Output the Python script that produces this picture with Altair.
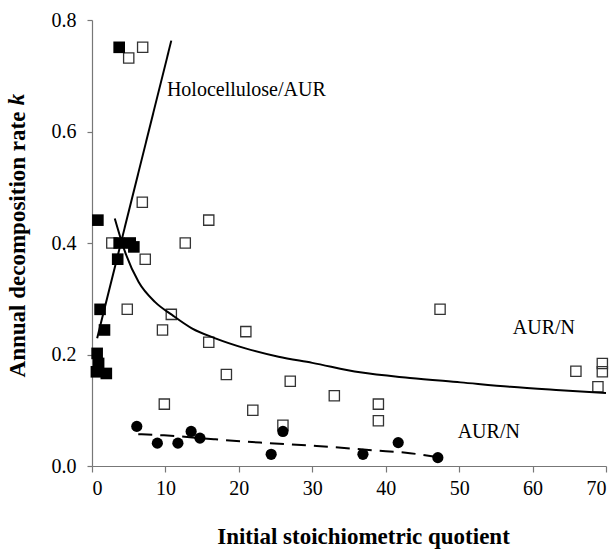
import altair as alt
import pandas as pd

# Open squares
open_x = [5.0, 6.9, 6.85, 15.9, 12.7, 2.7, 7.25, 4.8, 10.8, 9.6, 15.9, 20.95, 18.3, 27.0,
          9.85, 21.9, 26.0, 33.0, 39.0, 39.0, 47.4, 65.9, 69.5, 69.5, 68.9]
open_y = [0.732, 0.751, 0.473, 0.441, 0.400, 0.400, 0.371, 0.281, 0.272, 0.244, 0.222, 0.241,
          0.164, 0.152, 0.111, 0.100, 0.073, 0.126, 0.111, 0.081, 0.281, 0.170, 0.184, 0.169, 0.142]

# Filled squares (Holocellulose/AUR)
fsq_x = [3.7, 0.8, 3.7, 5.2, 5.7, 3.5, 1.1, 1.7, 0.7, 0.9, 0.6, 1.95]
fsq_y = [0.751, 0.441, 0.400, 0.400, 0.393, 0.371, 0.281, 0.244, 0.202, 0.184, 0.169, 0.166]

# Filled circles
circ_x = [6.1, 8.9, 11.7, 13.5, 14.7, 24.4, 26.0, 36.9, 41.7, 47.1]
circ_y = [0.071, 0.041, 0.041, 0.062, 0.050, 0.021, 0.062, 0.021, 0.042, 0.015]

# Trend lines
holo_x = [0.7, 10.8]
holo_y = [0.229, 0.763]

aurn_x = [3.1, 4.5, 6.35, 8.6, 10.9, 13.6, 16.8, 20.9, 25.4, 30.0, 36.5, 43.3, 50.2, 57.0, 63.8, 70.0]
aurn_y = [0.444, 0.384, 0.330, 0.294, 0.271, 0.247, 0.229, 0.211, 0.196, 0.185, 0.168, 0.158,
          0.150, 0.142, 0.136, 0.131]

dash_x = [6.3, 9.8, 16.6, 22.9, 30.6, 38.4, 43.3, 46.5]
dash_y = [0.057, 0.055, 0.048, 0.042, 0.036, 0.028, 0.023, 0.017]

# Annotations
lab_text = ["Holocellulose/AUR", "AUR/N", "AUR/N"]
lab_x = [10.2, 57.3, 49.8]
lab_y = [0.674, 0.247, 0.0615]

# italic "k" that ends the y-axis title
k_text = ["k"]
k_x = [-9.26]
k_y = [0.647]

x_ticks = [0, 10, 20, 30, 40, 50, 60, 70]
y_ticks = [0.0, 0.2, 0.4, 0.6, 0.8]

FONT = "Liberation Serif"
W, H = 514, 446

xscale = alt.Scale(domain=[0, 70], nice=False, zero=False)
yscale = alt.Scale(domain=[0, 0.8], nice=False, zero=False)

xaxis = alt.Axis(values=x_ticks, grid=False, tickSize=6, labelPadding=6,
                 labelFont=FONT, labelFontSize=20,
                 title="Initial stoichiometric quotient",
                 titleX=271, titleY=77, titleBaseline="alphabetic", titleAlign="center")
yaxis = alt.Axis(values=y_ticks, format=".1f", grid=False, tickSize=5, labelPadding=11,
                 labelFont=FONT, labelFontSize=20,
                 title="Annual decomposition rate", titleAngle=270,
                 titleX=-68, titleY=224, titleBaseline="alphabetic", titleAlign="center")


def enc(ch):
    return ch.encode(
        x=alt.X("x:Q", scale=xscale, axis=xaxis),
        y=alt.Y("y:Q", scale=yscale, axis=yaxis),
    )


df_open = pd.DataFrame({"x": open_x, "y": open_y})
df_fsq = pd.DataFrame({"x": fsq_x, "y": fsq_y})
df_circ = pd.DataFrame({"x": circ_x, "y": circ_y})
df_holo = pd.DataFrame({"x": holo_x, "y": holo_y})
df_aurn = pd.DataFrame({"x": aurn_x, "y": aurn_y})
df_dash = pd.DataFrame({"x": dash_x, "y": dash_y})
df_lab = pd.DataFrame({"x": lab_x, "y": lab_y, "t": lab_text})
df_k = pd.DataFrame({"x": k_x, "y": k_y, "t": k_text})

open_pts = enc(alt.Chart(df_open).mark_point(shape="square", filled=False, stroke="#333333",
                                              strokeWidth=1.3, size=105, opacity=1))
fsq_pts = enc(alt.Chart(df_fsq).mark_point(shape="square", filled=True, color="black",
                                            size=135, opacity=1))
circ_pts = enc(alt.Chart(df_circ).mark_point(shape="circle", filled=True, color="black",
                                              size=125, opacity=1))
holo_line = enc(alt.Chart(df_holo).mark_line(color="black", strokeWidth=2))
aurn_line = enc(alt.Chart(df_aurn).mark_line(color="black", strokeWidth=2, interpolate="monotone"))
dash_line = enc(alt.Chart(df_dash).mark_line(color="black", strokeWidth=2,
                                              strokeDash=[14, 8], interpolate="monotone"))
labels = enc(alt.Chart(df_lab).mark_text(align="left", baseline="middle", font=FONT,
                                          fontSize=20, color="black")).encode(text="t:N")
k_label = enc(alt.Chart(df_k).mark_text(align="left", baseline="alphabetic", font=FONT,
                                         fontSize=23, fontWeight="bold", fontStyle="italic",
                                         angle=270, color="black")).encode(text="t:N")

chart = alt.layer(open_pts, fsq_pts, circ_pts, holo_line, aurn_line, dash_line, labels,
                  k_label).properties(
    width=W, height=H,
    autosize=alt.AutoSizeParams(type="none"),
    padding={"left": 92, "top": 20, "right": 10, "bottom": 85},
    background="white",
).configure_view(stroke=None).configure_axis(
    labelFont=FONT, labelFontSize=20, labelColor="black",
    domainColor="#777", tickColor="#777", domainWidth=1.2, tickWidth=1.2,
    titleFont=FONT, titleFontSize=23, titleFontWeight="bold", titleColor="black",
)

chart.save("out.html", embed_options={"renderer": "svg", "actions": False})
